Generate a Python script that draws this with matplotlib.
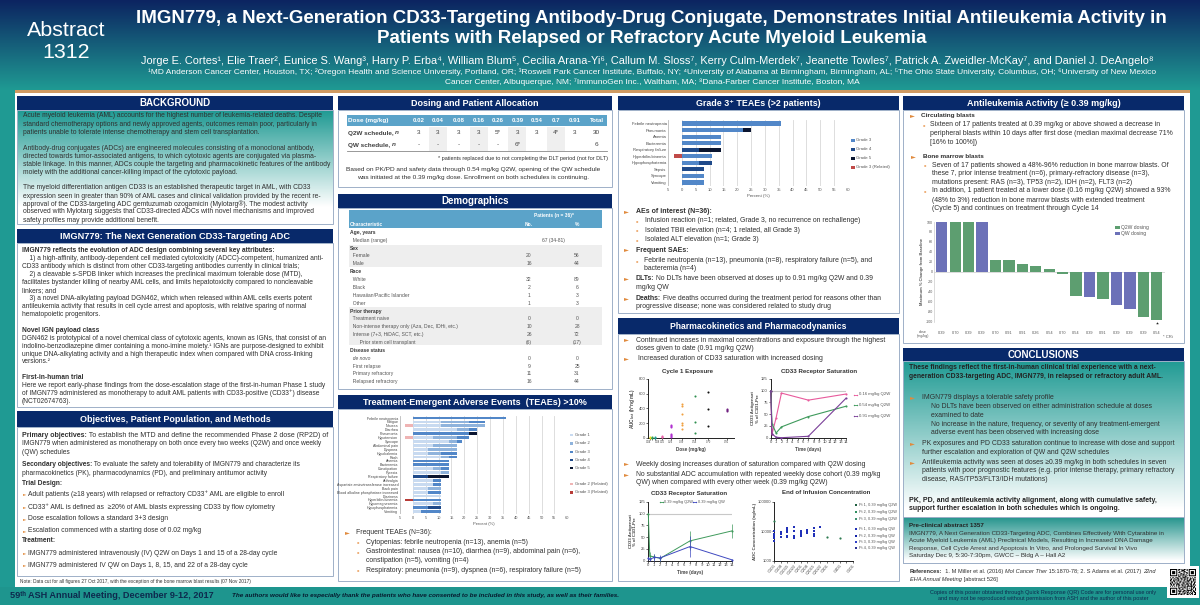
import numpy as np
import matplotlib
matplotlib.use("Agg")
import matplotlib.pyplot as plt
from matplotlib.colors import LinearSegmentedColormap
from matplotlib.patches import Rectangle

plt.rcParams['font.family'] = ['Liberation Sans', 'DejaVu Sans']
plt.rcParams['mathtext.default'] = 'regular'

# ---------- data ----------
dose_header = ["Dose (mg/kg)", "0.02", "0.04", "0.08", "0.16", "0.26", "0.39", "0.54", "0.7", "0.91", "Total"]
q2w_row = ["Q2W schedule, n", "3", "3", "3", "3", "5*", "3", "3", "4*", "3", "30"]
qw_row = ["QW schedule, n", "-", "-", "-", "-", "-", "6*", "", "", "", "6"]

demo_rows = [
    ("Age, years", "", "", 1), ("  Median (range)", "67 (34-81)", "", 0),
    ("Sex", "", "", 1), ("  Female", "20", "56", 0), ("  Male", "16", "44", 0),
    ("Race", "", "", 1), ("  White", "32", "89", 0), ("  Black", "2", "6", 0),
    ("  Hawaiian/Pacific Islander", "1", "3", 0), ("  Other", "1", "3", 0),
    ("Prior therapy", "", "", 1), ("  Treatment naive", "0", "0", 0),
    ("  Non-intense therapy only (Aza, Dec, IDHi, etc.)", "10", "28", 0),
    ("  Intense (7+3, HiDAC, SCT, etc.)", "26", "72", 0),
    ("       Prior stem cell transplant", "(6)", "(17)", 0),
    ("Disease status", "", "", 1), ("  de novo", "0", "0", 0), ("  First relapse", "9", "25", 0),
    ("  Primary refractory", "11", "31", 0), ("  Relapsed refractory", "16", "44", 0),
]

teae_names = ["Febrile neutropenia", "Fatigue", "Nausea", "Diarrhea", "Pneumonia", "Hypotension", "Syncope",
              "Abdominal pain", "Dyspnea", "Hypokalemia", "Rash", "Anemia", "Bacteremia", "Constipation",
              "Pyrexia", "Respiratory failure", "Arthralgia", "Aspartate aminotransferase increased",
              "Back pain", "Blood alkaline phosphatase increased", "Dizziness", "Hyperbilirubinemia",
              "Hypomagnesemia", "Hypophosphatemia", "Vomiting"]
teae_g1 = [0, 11, 11, 17, 0, 8, 14, 8, 6, 6, 11, 0, 0, 8, 11, 0, 8, 8, 6, 6, 11, 0, 8, 0, 3]
teae_g2 = [0, 11, 17, 5, 0, 9, 3, 9, 11, 5, 3, 0, 0, 3, 3, 0, 0, 0, 5, 0, 0, 0, 3, 0, 0]
teae_g3 = [36, 6, 0, 3, 22, 5, 2, 0, 0, 6, 3, 14, 14, 3, 0, 0, 3, 3, 0, 5, 0, 11, 0, 6, 8]
teae_g4 = [0, 0, 0, 0, 0, 0, 0, 0, 0, 0, 0, 0, 0, 0, 0, 6, 0, 0, 0, 0, 0, 0, 0, 5, 0]
teae_g5 = [0, 0, 0, 0, 3, 0, 0, 0, 0, 0, 0, 0, 0, 0, 0, 8, 0, 0, 0, 0, 0, 0, 0, 0, 0]
teae_g2rel = [0, 0, 3, 0, 0, 3, 0, 0, 0, 0, 0, 0, 0, 0, 0, 0, 0, 0, 0, 0, 0, 0, 0, 0, 0]
teae_g3rel = [0, 0, 0, 0, 0, 0, 0, 0, 0, 0, 0, 0, 0, 0, 0, 0, 0, 0, 0, 0, 0, 3, 0, 0, 0]

g3_names = ["Febrile neutropenia", "Pneumonia", "Anemia", "Bacteremia", "Respiratory failure",
            "Hyperbilirubinemia", "Hypophosphatemia", "Sepsis", "Syncope", "Vomiting"]
g3_g3 = [36, 22, 14, 14, 0, 11, 6, 0, 8, 8]
g3_g4 = [0, 0, 0, 0, 6, 0, 5, 8, 0, 0]
g3_g5 = [0, 3, 0, 0, 8, 0, 0, 0, 0, 0]
g3_rel = [0, 0, 0, 0, 0, 3, 0, 0, 0, 0]

wf_values = [100, 100, 100, 100, 23, 23, 16, 11, 5, -4, -48, -50, -55, -67, -74, -90, -96]
wf_sched = ["QW", "Q2W", "Q2W", "QW", "Q2W", "Q2W", "Q2W", "Q2W", "Q2W", "Q2W", "Q2W", "QW", "Q2W", "QW", "QW", "Q2W", "Q2W"]
wf_doses = ["0.39", "0.70", "0.39", "0.39", "0.70", "0.91", "0.91", "0.26", "0.54", "0.70", "0.54", "0.39", "0.91", "0.39", "0.39", "0.39", "0.54"]

exp_doses = [0.02, 0.04, 0.08, 0.16, 0.26, 0.39, 0.54, 0.70, 0.91]
exp_labels = ["", "0.04", "0.08", "0.16", "0.26", "0.39", "0.54", "0.70", "0.91"]
exp_colors = ["#e8e020", "#30a050", "#20a090", "#e860a8", "#b030d0", "#f0a040", "#2f8f4f", "#111111", "#702080"]
exp_values = [[0, 8], [0, 5], [0, 3], [5, 10, 25], [10, 25, 40, 50, 140, 160, 170],
              [120, 170, 200, 320, 430, 460], [60, 215, 570], [155, 395, 625], [360, 375, 385]]

sat_days = [0, 0.25, 1, 2, 7, 14]
sat_016 = [100, 8, 42, 95, 80, 93]
sat_054 = [100, 30, 10, 23, 45, 67]
sat_091 = [100, 8, 1, 0, 3, 84]

qw_days = [0, 0.25, 1, 2, 7, 14]
sat_q2w = [100, 10, 8, 5, 42, 63]
err_q2w = [0, 8, 6, 6, 20, 15]
sat_qw = [5, 3, 7, 6, 30, 2]
err_qw = [3, 3, 8, 7, 22, 2]

eoi_labels = ["C1D1", "C1D8", "C1D15", "C1D22", "C2D1", "C2D8", "C2D15", "C2D22", "C3D1", "", "C4D1", "", "C5D1"]
eoi_q2w = [[22000], [], [], [], [], [], [], [], [6500], [], [5800], [], []]
eoi_qw = [[10000, 8000, 7000, 6000, 4800], [9500, 8000, 6500], [13000, 11000, 9500, 7000, 6500],
          [14000, 10000, 7000, 6000], [10000, 8500, 7500, 6800], [11000, 10000, 9000],
          [12500, 10000, 8000, 7000], [14000], [], [], [], [], []]
eoi_legend = ["Pt 1, 0.39 mg/kg Q2W", "Pt 2, 0.39 mg/kg Q2W", "Pt 3, 0.39 mg/kg Q2W",
              "Pt 1, 0.39 mg/kg QW", "Pt 2, 0.39 mg/kg QW", "Pt 3, 0.39 mg/kg QW", "Pt 4, 0.39 mg/kg QW"]

qr_rows = [
    "#######.##.#.##.#.#######",
    "#.....#.#..###..#.#.....#",
    "#.###.#..#.#.##...#.###.#",
    "#.###.#.##...#.##.#.###.#",
    "#.###.#...##.#..#.#.###.#",
    "#.....#.#.#.##.#..#.....#",
    "#######.#.#.#.#.#.#######",
    "........##..#.##.........",
    "#.##.###..#.###.##.#.#.##",
    ".#..#..##.##..#.#..##.#..",
    "##.#.##.#..#.##.#.##..###",
    "#..##..##.#..#..###.#.#..",
    ".##.#.#..##.#.##.#..##.##",
    "#.#..#.#.#..##..#.#.#..#.",
    "##.##.###..#.#.###.##.##.",
    ".#.#..#.##.##.#..#..#.#.#",
    "#.#.#.#.#...#.#.######.#.",
    "........#.##.##.#...#.##.",
    "#######.##..#.#.#.#.#.#.#",
    "#.....#..#.##...#...##..#",
    "#.###.#.#.#..##.#####.#.#",
    "#.###.#.###.##.#.#..#.##.",
    "#.###.#..#..#.#.##.#.#.##",
    "#.....#.##.#.##.#.#.##..#",
    "#######.#.##.#..##.#.#.##",
]

# ---------- canvas ----------
fig = plt.figure(figsize=(12, 6.05), dpi=100, facecolor="#1d9a93")
ax = fig.add_axes([0, 0, 1, 1])
ax.set_axis_off()
renderer = fig.canvas.get_renderer()

NAVY = "#08296a"
TEAL = "#1f9a93"
TXT = "#303030"
ORANGE = "#e08a3c"


def grad(x0, y0, x1, y1, c0, c1, stop=1.0, z=1):
    cmap = LinearSegmentedColormap.from_list("g", [(0, c0), (stop, c1), (1, c1)])
    ax.imshow(np.linspace(0, 1, 200)[:, None], extent=(x0, x1, y1, y0), cmap=cmap, aspect="auto",
              zorder=z, interpolation="bilinear", vmin=0, vmax=1)


def box(x0, y0, x1, y1, fc="white", ec="none", lw=0, z=1):
    ax.add_patch(Rectangle((x0, y0), x1 - x0, y1 - y0, fc=fc, ec=ec, lw=lw, zorder=z))


def T(x, y, s, size=5.0, weight="normal", color=TXT, ha="left", style="normal", z=5, **kw):
    return ax.text(x, y, s, fontsize=size, fontweight=weight, color=color, ha=ha, va="center",
                   fontstyle=style, zorder=z, **kw)


def width(s, size, weight="normal", style="normal"):
    t = ax.text(0, 0, s + ".", fontsize=size, fontweight=weight, fontstyle=style)
    a = t.get_window_extent(renderer).width
    t.set_text(".")
    b = t.get_window_extent(renderer).width
    t.remove()
    return a - b


def runs(x, y, parts, size=5.0, color=TXT):
    for s, weight, style in parts:
        T(x, y, s, size, weight, color, style=style)
        x += width(s, size, weight, style)


def header(x0, y0, x1, y1, s, size=6.5):
    box(x0, y0, x1, y1, NAVY, z=2)
    T((x0 + x1) / 2, (y0 + y1) / 2 + 0.3, s, size, "bold", "white", ha="center", z=6)


def panel(x0, y0, x1, y1):
    box(x0, y0, x1, y1, "none", "#9fb0c8", 0.7, z=3)


def bullet(x, y, color=ORANGE, size=4.6):
    T(x, y, "\u25ba", size, color=color, family=["DejaVu Sans"])


def dash(x, y):
    T(x, y, "\u25aa", 2.6, color="#eeb07a", family=["DejaVu Sans"])


def inset(x0, y0, x1, y1):
    a = fig.add_axes([x0 / 1200, 1 - y1 / 605, (x1 - x0) / 1200, (y1 - y0) / 605])
    a.patch.set_alpha(0)
    return a


# background
grad(0, 0, 1200, 90, "#0c2461", "#1f9a93")
box(0, 90, 1200, 605, TEAL, z=0.5)
box(15, 93, 1190, 587, "white", z=0.8)
box(15, 89.8, 1190, 92.8, "#cf9a62", z=1.5)
box(0, 587, 1200, 605, "#1e958e", z=1.5)

# title block
T(66, 30, "Abstract", 15.4, color="white", ha="center")
T(66, 52, "1312", 15.4, color="white", ha="center")
T(651, 18.5, "IMGN779, a Next-Generation CD33-Targeting Antibody-Drug Conjugate, Demonstrates Initial Antileukemia Activity in",
  13.5, "bold", "white", ha="center")
T(652, 38.5, "Patients with Relapsed or Refractory Acute Myeloid Leukemia", 13.5, "bold", "white", ha="center")
T(647, 60.5, "Jorge E. Cortes\u00b9, Elie Traer\u00b2, Eunice S. Wang\u00b3, Harry P. Erba\u2074, William Blum\u2075, Cecilia Arana-Yi\u2076, "
  "Callum M. Sloss\u2077, Kerry Culm-Merdek\u2077, Jeanette Towles\u2077, Patrick A. Zweidler-McKay\u2077, and Daniel J. DeAngelo\u2078",
  7.95, color="white", ha="center")
T(652, 72, "\u00b9MD Anderson Cancer Center, Houston, TX; \u00b2Oregon Health and Science University, Portland, OR; \u00b3Roswell Park Cancer Institute, "
  "Buffalo, NY; \u2074University of Alabama at Birmingham, Birmingham, AL; \u2075The Ohio State University, Columbus, OH; \u2076University of New Mexico",
  6.05, color="white", ha="center")
T(652, 82, "Cancer Center, Albuquerque, NM; \u2077ImmunoGen Inc., Waltham, MA; \u2078Dana-Farber Cancer Institute, Boston, MA", 6.05, color="white", ha="center")

# ---------- column 1 ----------
header(17, 96, 333, 110, "BACKGROUND", 7.0)
grad(17, 110, 333, 224, "#1f9a93", "#ffffff", 0.85)
panel(17, 110, 333, 224)
bg_lines = [
    (62, "Acute myeloid leukemia (AML) accounts for the highest number of leukemia-related deaths. Despite"),
    (87, "standard chemotherapy options and newly approved agents, outcomes remain poor, particularly in"),
    (112, "patients unable to tolerate intense chemotherapy and stem cell transplantation."),
    (159, "Antibody-drug conjugates (ADCs) are engineered molecules consisting of a monoclonal antibody,"),
    (183, "directed towards tumor-associated antigens, to which cytotoxic agents are conjugated via plasma-"),
    (207, "stable linkage. In this manner, ADCs couple the targeting and pharmacokinetic features of the antibody"),
    (231, "moiety with the additional cancer-killing impact of the cytotoxic payload."),
    (278, "The myeloid differentiation antigen CD33 is an established therapeutic target in AML, with CD33"),
    (303, "expression seen in greater than 90% of AML cases and clinical validation provided by the recent re-"),
    (326, "approval of the CD33-targeting ADC gemtuzumab ozogamicin (Mylotarg\u00ae). The modest activity"),
    (350, "observed with Mylotarg suggests that CD33-directed ADCs with novel mechanisms and improved"),
    (375, "safety profiles may provide additional benefit."),
]
for zy, s in bg_lines:
    T(22.7, 95 + zy / 3, s, 4.85)

header(17, 229, 333, 243, "IMGN779: The Next Generation CD33-Targeting ADC", 6.7)
panel(17, 243, 333, 407)
next_lines = [
    (466, "IMGN779 reflects the evolution of ADC design combining several key attributes:", "bold"),
    (490, "    1) a high-affinity, antibody-dependent cell mediated cytotoxicity (ADCC)-competent, humanized anti-", "normal"),
    (513, "CD33 antibody which is distinct from other CD33-targeting antibodies currently in clinical trials;", "normal"),
    (540, "    2) a cleavable s-SPDB linker which increases the preclinical maximum tolerable dose (MTD),", "normal"),
    (563, "facilitates bystander killing of nearby AML cells, and limits hepatotoxicity compared to noncleavable", "normal"),
    (587, "linkers; and", "normal"),
    (611, "    3) a novel DNA-alkylating payload DGN462, which when released within AML cells exerts potent", "normal"),
    (634, "antileukemia activity that results in cell cycle arrest and apoptosis, with relative sparing of normal", "normal"),
    (658, "hematopoietic progenitors.", "normal"),
    (706, "Novel IGN payload class", "bold"),
    (729, "DGN462 is prototypical of a novel chemical class of cytotoxic agents, known as IGNs, that consist of an", "normal"),
    (753, "indolino-benzodiazepine dimer containing a mono-imine moiety.\u00b9 IGNs are purpose-designed to exhibit", "normal"),
    (777, "unique DNA-alkylating activity and a high therapeutic index when compared with DNA cross-linking", "normal"),
    (800, "versions.\u00b2", "normal"),
    (847, "First-in-human trial", "bold"),
    (871, "Here we report early-phase findings from the dose-escalation stage of the first-in-human Phase 1 study", "normal"),
    (895, "of IMGN779 administered as monotherapy to adult AML patients with CD33-positive (CD33\u207a) disease", "normal"),
    (920, "(NCT02674763).", "normal"),
]
for zy, s, w in next_lines:
    T(22, 95 + zy / 3, s, 4.75, w)

header(17, 411, 333, 427, "Objectives, Patient Population, and Methods")
panel(17, 427, 333, 576)
Y = lambda z: 390 + z / 3
N, B = "normal", "bold"
runs(22, Y(137), [("Primary objectives:", B, N), (" To establish the MTD and define the recommended Phase 2 dose (RP2D) of", N, N)], 5.0)
T(22, Y(161), "IMGN779 when administered as monotherapy on both once every two weeks (Q2W) and once weekly", 4.78)
T(22, Y(186), "(QW) schedules", 4.78)
runs(22, Y(225), [("Secondary objectives:", B, N), (" To evaluate the safety and tolerability of IMGN779 and characterize its", N, N)], 4.8)
T(22, Y(250), "pharmacokinetics (PK), pharmacodynamics (PD), and preliminary antitumor activity", 4.78)
T(22, Y(280), "Trial Design:", 4.78, B)
T(22, Y(452), "Treatment:", 4.78, B)
for zy, s in [(313, "Adult patients (\u226518 years) with relapsed or refractory CD33\u207a AML are eligible to enroll"),
              (350, "CD33\u207a AML is defined as  \u226520% of AML blasts expressing CD33 by flow cytometry"),
              (386, "Dose escalation follows a standard 3+3 design"),
              (422, "Escalation commenced with a starting dose of 0.02 mg/kg"),
              (490, "IMGN779 administered intravenously (IV) Q2W on Days 1 and 15 of a 28-day cycle"),
              (526, "IMGN779 administered IV QW on Days 1, 8, 15, and 22 of a 28-day cycle")]:
    bullet(23.3, Y(zy), size=3.2)
    T(28, Y(zy), s, 4.9)
T(20, 582, "Note: Data cut for all figures 27 Oct 2017, with the exception of the bone marrow blast results (07 Nov 2017)", 3.4)

# ---------- column 2 ----------
header(338, 96, 612, 110, "Dosing and Patient Allocation")
panel(338, 110, 612, 187)
box(347, 115, 607, 126, "#5ba3c9", z=2)
col_x = [340, 398, 461, 521, 578, 637, 695, 752, 808, 875]
col_x = [305 + c / 3 for c in col_x]
for i in [1, 3, 5, 7]:
    box(col_x[i] - 9, 127, col_x[i] + 9, 151, "#efefef", z=1.5)
ax.plot([347, 607], [151, 151], color="#888888", lw=0.6, zorder=3)
T(348, 120.5, dose_header[0], 4.6, B, "white")
T(348, 133, q2w_row[0][:-1], 4.6, B, "#404040")
T(348, 145, qw_row[0][:-1], 4.6, B, "#404040")
T(348 + width(q2w_row[0][:-1], 4.6, B), 133, "n", 4.6, B, "#404040", style="italic")
T(348 + width(qw_row[0][:-1], 4.6, B), 145, "n", 4.6, B, "#404040", style="italic")
for i, cx in enumerate(col_x):
    T(cx, 120.5, dose_header[i + 1], 4.4, B, "white", ha="center")
    T(cx, 133, q2w_row[i + 1], 4.6, color="#404040", ha="center")
    T(cx, 145, qw_row[i + 1], 4.6, color="#404040", ha="center")
T(608, 158.5, "* patients replaced due to not completing the DLT period (not for DLT)", 4.0, ha="right")
T(473.5, 169, "Based on PK/PD and safety data through 0.54 mg/kg Q2W, opening of the QW schedule", 4.66, ha="center")
T(473.5, 177.5, "was initiated at the 0.39 mg/kg dose. Enrollment on both schedules is continuing.", 4.66, ha="center")

header(338, 194, 612, 208, "Demographics", 7.0)
panel(338, 208, 612, 389)
box(349, 210, 602, 228, "#5ba3c9", z=2)
box(349, 245, 602, 267, "#eeeeee", z=1.5)
box(349, 307, 602, 345, "#eeeeee", z=1.5)
T(553.5, 215, "Patients (n = 36)*", 3.5, B, "white", ha="center")
T(350, 224, "Characteristic", 3.5, B, "white")
T(529, 224, "No.", 3.5, B, "white", ha="center")
T(577, 224, "%", 3.5, B, "white", ha="center")
for i, (name, no, pct, bold) in enumerate(demo_rows):
    yy = 232.3 + 7.87 * i
    T(350, yy, name, 3.6, B if bold else N, "#3a3a3a" if bold else "#555555",
      style="italic" if "de novo" in name else "normal")
    if i == 1:
        T(553, yy, no, 3.6, color="#555555", ha="center")
    else:
        T(529, yy, no, 3.6, color="#555555", ha="center")
        T(577, yy, pct, 3.6, color="#555555", ha="center")

header(338, 395, 612, 409, "Treatment-Emergent Adverse Events  (TEAEs) >10%")
panel(338, 409, 612, 581)

G1, G2, G3_, G4, G5, R2, R3 = "#c8daf0", "#8fb3dc", "#5287c8", "#1f4a8a", "#0a1530", "#efb4b4", "#b83c38"

a = inset(400, 415.7, 567.3, 514)
yy = np.arange(len(teae_names))
left = np.zeros(len(teae_names))
for vals, c in [(teae_g1, G1), (teae_g2, G2), (teae_g3, G3_), (teae_g4, G4), (teae_g5, G5)]:
    a.barh(yy, vals, left=left, height=0.72, color=c, zorder=3)
    left = left + np.array(vals)
a.barh(yy, -np.array(teae_g2rel), height=0.72, color=R2, zorder=3)
a.barh(yy, -np.array(teae_g3rel), height=0.72, color=R3, zorder=3)
a.set_xlim(-5, 60)
a.set_ylim(len(teae_names) - 0.4, -0.6)
a.set_yticks(yy, teae_names, fontsize=2.6, color="#444444")
a.set_xticks(np.arange(-5, 61, 5), [str(abs(v)) for v in range(-5, 61, 5)], fontsize=2.8, color="#555555")
a.tick_params(length=0, pad=1.2)
a.grid(axis="x", color="#d8d8d8", lw=0.6, zorder=0)
for s in a.spines.values():
    s.set_visible(False)
a.axvline(-5, color="#bbbbbb", lw=0.5)
a.axhline(len(teae_names) - 0.4, color="#bbbbbb", lw=0.5)
a.set_xlabel("Percent (%)", fontsize=3.0, color="#555555", labelpad=2)
for ly, lab, c in [(435, "Grade 1", G1), (443.5, "Grade 2", G2), (452, "Grade 3", G3_), (460, "Grade 4", G4),
                   (468, "Grade 5", G5), (484, "Grade 2 (Related)", R2), (492.5, "Grade 3 (Related)", R3)]:
    box(569.5, ly - 1.1, 572.5, ly + 1.1, c, z=3)
    T(575, ly, lab, 3.0, color="#555555")

bullet(344.5, 533)
T(356.5, 533, "Frequent TEAEs (N=36):", 4.95)
for zy, s in [(472, "Cytopenias: febrile neutropenia (n=13), anemia (n=5)"),
              (500, "Gastrointestinal: nausea (n=10), diarrhea (n=9), abdominal pain (n=6),"),
              (527, "constipation (n=5), vomiting (n=4)"),
              (555, "Respiratory: pneumonia (n=9), dyspnea (n=6), respiratory failure (n=5)")]:
    if zy != 527:
        dash(357, 385 + zy / 3)
    T(366, 385 + zy / 3, s, 4.95)

# ---------- column 3 ----------
header(618, 96, 899, 110, "Grade 3\u207a TEAEs (>2 patients)", 6.4)
panel(618, 110, 899, 313)

a = inset(668.3, 120, 847.7, 186)
yy = np.arange(len(g3_names))
left = np.zeros(len(g3_names))
for vals, c in [(g3_g3, G3_), (g3_g4, G4), (g3_g5, G5)]:
    a.barh(yy, vals, left=left, height=0.66, color=c, zorder=3)
    left = left + np.array(vals)
a.barh(yy, -np.array(g3_rel), height=0.66, color="#c04a48", zorder=3)
a.set_xlim(-5, 60)
a.set_ylim(len(g3_names) - 0.45, -0.55)
a.set_yticks(yy, g3_names, fontsize=3.0, color="#444444")
a.set_xticks(np.arange(-5, 61, 5), [str(abs(v)) for v in range(-5, 61, 5)], fontsize=3.0, color="#555555")
a.tick_params(length=0, pad=1.2)
a.grid(axis="x", color="#d8d8d8", lw=0.6, zorder=0)
for s in a.spines.values():
    s.set_visible(False)
a.axvline(-5, color="#bbbbbb", lw=0.5)
a.axhline(len(g3_names) - 0.45, color="#bbbbbb", lw=0.5)
a.set_xlabel("Percent (%)", fontsize=3.2, color="#555555", labelpad=2)
for ly, lab, c in [(140, "Grade 3", G3_), (149, "Grade 4", G4), (158, "Grade 5", G5), (167, "Grade 3 (Related)", "#c04a48")]:
    box(851, ly - 1.5, 854.5, ly + 1.5, c, z=3)
    T(856, ly, lab, 3.1, color="#555555")

Y = lambda z: 95 + z / 3
bullet(624, Y(350))
T(636, Y(350), "AEs of interest (N=36):", 5.0, B)
for zy, s in [(377, "Infusion reaction (n=1; related, Grade 3, no recurrence on rechallenge)"),
              (405, "Isolated TBili elevation (n=4; 1 related, all Grade 3)"),
              (434, "Isolated ALT elevation (n=1; Grade 3)")]:
    dash(636, Y(zy))
    T(645.3, Y(zy), s, 4.98)
bullet(624, Y(465))
T(636, Y(465), "Frequent SAEs:", 5.0, B)
dash(636, Y(497))
T(643.5, Y(497), "Febrile neutropenia (n=13), pneumonia (n=8), respiratory failure (n=5), and", 4.98)
T(643.5, Y(522), "bacteremia (n=4)", 4.98)
bullet(624, Y(552))
runs(636, Y(552), [("DLTs:", B, N), (" No DLTs have been observed at doses up to 0.91 mg/kg Q2W and 0.39", N, N)], 4.98)
T(636, Y(577), "mg/kg QW", 4.98)
bullet(624, Y(610))
runs(636, Y(610), [("Deaths:", B, N), (" Five deaths occurred during the treatment period for reasons other than", N, N)], 4.98)
T(636, Y(635), "progressive disease; none was considered related to study drug", 4.98)

header(618, 318, 899, 334, "Pharmacokinetics and Pharmacodynamics", 6.2)
panel(618, 334, 899, 581)
Y = lambda z: 340 + z / 3
bullet(624, Y(0))
T(636, Y(0), "Continued increases in maximal concentrations and exposure through the highest", 4.98)
T(636, Y(25), "doses given to date (0.91 mg/kg Q2W)", 4.98)
bullet(624, Y(57))
T(637.5, Y(57), "Increased duration of CD33 saturation with increased dosing", 4.98)
bullet(624, Y(372))
T(636, Y(372), "Weekly dosing increases duration of saturation compared with Q2W dosing", 4.98)
bullet(624, Y(404))
T(636, Y(404), "No substantial ADC accumulation with repeated weekly dose cohort (0.39 mg/kg", 4.98)
T(636, Y(428), "QW) when compared with every other week (0.39 mg/kg Q2W)", 4.98)


def prism(a):
    for s in ("top", "right"):
        a.spines[s].set_visible(False)
    for s in ("left", "bottom"):
        a.spines[s].set_linewidth(0.7)
        a.spines[s].set_color("#222222")
    a.tick_params(length=1.2, width=0.5, pad=0.8, labelsize=3.0, labelcolor="#444444", color="#333333")


T(688, 371, "Cycle 1 Exposure", 4.4, B, "#333333", ha="center")
T(819, 371, "CD33 Receptor Saturation", 4.4, B, "#333333", ha="center")
T(689, 493, "CD33 Receptor Saturation", 4.4, B, "#333333", ha="center")
T(826, 493, "End of Infusion Concentration", 4.4, B, "#333333", ha="center")

a = inset(648.3, 379, 734, 437.7)
prism(a)
for d, c, vs in zip(exp_doses, exp_colors, exp_values):
    a.plot([d] * len(vs), vs, ls="", marker="o", ms=1.5, color=c, mew=0, clip_on=False, zorder=4)
a.set_xlim(0, 0.997)
a.set_ylim(0, 800)
a.set_yticks([0, 200, 400, 600, 800])
a.set_xticks(exp_doses, exp_labels, fontsize=1.9)
labs = a.get_xticklabels()
labs[1].set_ha("right")
labs[2].set_ha("left")
a.set_xlabel("Dose (mg/kg)", fontsize=3.3, fontweight="bold", color="#444444", labelpad=1.5)
a.set_ylabel("AUC$_{last}$ (h*ng/mL)", fontsize=3.3, fontweight="bold", color="#444444", labelpad=1)

a = inset(770.7, 379, 846, 437.7)
prism(a)
a.axhline(100, color="#c8c8c8", lw=0.8, zorder=1)
PINK, GRN, PUR = "#e85a9c", "#3f9a5c", "#7a3f98"
for vals, c in [(sat_016, PINK), (sat_054, GRN), (sat_091, PUR)]:
    a.plot(sat_days, vals, color=c, lw=0.8, marker="o", ms=1.5, mew=0, clip_on=False, zorder=4)
a.set_xlim(0, 14)
a.set_ylim(0, 125)
a.set_xticks(range(15))
a.set_yticks([0, 25, 50, 75, 100, 125])
a.set_xlabel("Time (days)", fontsize=3.3, fontweight="bold", color="#444444", labelpad=1.5)
a.set_ylabel("CD33 Antigensat\n% of C1D1-Pre", fontsize=3.1, fontweight="bold", color="#444444", labelpad=1)
for ly, lab, c in [(394.5, "0.16 mg/kg Q2W", PINK), (405, "0.54 mg/kg Q2W", GRN), (415.5, "0.91 mg/kg Q2W", PUR)]:
    ax.plot([854, 857], [ly, ly], color=c, lw=0.6, marker="o", ms=1, mew=0, zorder=5)
    T(859, ly, lab, 3.1, color="#555555")

a = inset(648.3, 501.7, 731.7, 560.7)
prism(a)
a.axhline(100, color="#c8c8c8", lw=0.8, zorder=1)
BLU = "#3f49c0"
a.errorbar(qw_days, sat_q2w, yerr=err_q2w, color=GRN, lw=0.7, marker="o", ms=1.5, mew=0, elinewidth=0.5, capsize=0.8,
           capthick=0.4, clip_on=False, zorder=4)
a.errorbar(qw_days, sat_qw, yerr=err_qw, color=BLU, lw=0.7, marker="o", ms=1.5, mew=0, elinewidth=0.5, capsize=0.8,
           capthick=0.4, clip_on=False, zorder=5)
a.set_xlim(0, 14)
a.set_ylim(0, 125)
a.set_xticks(range(15))
a.set_yticks([0, 25, 50, 75, 100, 125])
a.set_xlabel("Time (days)", fontsize=3.3, fontweight="bold", color="#444444", labelpad=1.5)
a.set_ylabel("CD33 Antigensat\n% of C1D1-Pre", fontsize=3.1, fontweight="bold", color="#444444", labelpad=1)
ax.plot([660, 663], [502, 502], color=GRN, lw=0.6, marker="o", ms=1, mew=0, zorder=5)
T(664.5, 502, "0.39 mg/kg Q2W", 2.8, color="#555555")
ax.plot([693, 696], [502, 502], color=BLU, lw=0.6, marker="o", ms=1, mew=0, zorder=5)
T(697.5, 502, "0.39 mg/kg QW", 2.8, color="#555555")

a = inset(774.3, 501.7, 853, 561)
prism(a)
for i, vals in enumerate(eoi_qw):
    a.plot([i] * len(vals), vals, ls="", marker="s", ms=1.5, mew=0, color="#2030b8", clip_on=False, zorder=4)
for i, vals in enumerate(eoi_q2w):
    a.plot([i] * len(vals), vals, ls="", marker="o", ms=1.6, mew=0, color="#2d7a50", clip_on=False, zorder=4)
a.set_yscale("log")
a.set_ylim(1000, 100000)
a.set_yticks([1000, 10000, 100000], ["1000", "10000", "100000"])
a.minorticks_off()
a.set_xticks(range(13), eoi_labels, rotation=50, ha="right", rotation_mode="anchor", fontsize=2.8)
a.set_xlim(0, 12)
a.set_ylabel("ADC Concentration (ng/mL)", fontsize=3.2, fontweight="bold", color="#444444", labelpad=1)
eoi_y = [505, 512.3, 519.3, 529, 535.7, 542.3, 548.3]
eoi_c = ["#1f5f3f", "#2f8f5f", "#3f8f6f", "#2030b8", "#1020a8", "#3040c8", "#2a3090"]
for ly, lab, c in zip(eoi_y, eoi_legend, eoi_c):
    ax.plot([855.5], [ly], ls="", marker="s", ms=1.5, mew=0, color=c, zorder=5)
    T(859, ly, lab, 2.8, color="#555555")

# ---------- column 4 ----------
header(903, 96, 1184, 110, "Antileukemia Activity (\u2265 0.39 mg/kg)", 6.45)
panel(903, 110, 1184, 343)
Y = lambda z: 95 + z / 3
bullet(909.5, Y(62))
T(921, Y(62), "Circulating blasts", 4.6, B)
dash(922.5, Y(90))
for zy, s in [(90, "Sixteen of 17 patients treated at 0.39 mg/kg or above showed a decrease in"),
              (116, "peripheral blasts within 10 days after first dose (median maximal decrease 71%"),
              (142, "[16% to 100%])")]:
    T(930.3, Y(zy), s, 4.98)
bullet(910.5, Y(184))
T(922.7, Y(184), "Bone marrow blasts", 4.6, B)
dash(923.5, Y(211))
dash(923.5, Y(288))
for zy, s in [(211, "Seven of 17 patients showed a 48%-96% reduction in bone marrow blasts. Of"),
              (236, "these 7, prior intense treatment (n=6), primary-refractory disease (n=3),"),
              (262, "mutations present: RAS (n=3), TP53 (n=2), IDH (n=2), FLT3 (n=2)"),
              (288, "In addition, 1 patient treated at a lower dose (0.16 mg/kg Q2W) showed a 93%"),
              (315, "(48% to 3%) reduction in bone marrow blasts with extended treatment"),
              (341, "(Cycle 5) and continues on treatment through Cycle 14")]:
    T(932.3, Y(zy), s, 4.98)

WFG, WFB = "#5d9e70", "#6c71b8"
a = inset(934, 222, 1165, 321.7)
xx = np.arange(len(wf_values))
a.bar(xx, wf_values, width=0.84, color=[WFB if s == "QW" else WFG for s in wf_sched], zorder=3)
a.set_xlim(-0.573, 16.61)
a.set_ylim(-100, 100)
a.set_yticks(np.arange(-100, 101, 20), [str(v) for v in range(-100, 101, 20)], fontsize=2.6, color="#555555")
a.set_xticks(xx, wf_doses, fontsize=2.8, color="#555555")
a.tick_params(axis="x", length=0, pad=7)
a.tick_params(axis="y", length=0, pad=1)
for s in ("top", "right", "bottom"):
    a.spines[s].set_visible(False)
a.spines["left"].set_color("#cccccc")
a.spines["left"].set_linewidth(0.5)
a.axhline(0, color="#cccccc", lw=0.5, zorder=1)
a.set_ylabel("Maximum % Change from Baseline", fontsize=2.9, fontweight="bold", color="#555555", labelpad=1)
a.plot([16], [-103], ls="", marker="*", ms=2.2, mew=0, color="#222222", clip_on=False)
T(923, 331.7, "dose", 2.6, color="#555555", ha="center")
T(923, 336.3, "(mg/kg)", 2.6, color="#555555", ha="center")
T(1163, 337, "* CRi", 3.0, color="#555555")
for ly, lab, c in [(227, "Q2W dosing", WFG), (233, "QW dosing", WFB)]:
    box(1115, ly - 1.5, 1119.5, ly + 1.5, c, z=3)
    T(1121, ly, lab, 3.6, color="#555555")

header(903, 348, 1184, 361, "CONCLUSIONS", 7.0)
grad(903, 361, 1184, 517, "#219b94", "#ffffff", 0.95)
panel(903, 361, 1184, 563)
Y = lambda z: 345 + z / 3
T(909, Y(68), "These findings reflect the first-in-human clinical trial experience with a next-", 4.9, B, "#222222")
T(909, Y(95), "generation CD33-targeting ADC, IMGN779, in relapsed or refractory adult AML.", 4.9, B, "#222222")
for zy in (157, 296, 352):
    bullet(909.5, Y(zy))
for zy, s, x in [(157, "IMGN779 displays a tolerable safety profile", 921.7),
                 (185, "No DLTs have been observed on either administration schedule at doses", 930.7),
                 (211, "examined to date", 930.7),
                 (240, "No increase in the nature, frequency, or severity of any treatment-emergent", 930.7),
                 (264, "adverse event has been observed with increasing dose", 930.7),
                 (296, "PK exposures and PD CD33 saturation continue to increase with dose and support", 921.7),
                 (321, "further escalation and exploration of QW and Q2W schedules", 921.7),
                 (352, "Antileukemia activity was seen at doses \u22650.39 mg/kg in both schedules in seven", 921.7),
                 (378, "patients with poor prognostic features (e.g. prior intense therapy, primary refractory", 921.7),
                 (403, "disease, RAS/TP53/FLT3/IDH mutations)", 921.7)]:
    T(x, Y(zy), s, 4.95)
T(909, Y(465), "PK, PD, and antileukemia activity alignment, along with cumulative safety,", 5.0, B, "#222222")
T(909, Y(491), "support further escalation in both schedules which is ongoing.", 5.0, B, "#222222")
grad(903, 517, 1184, 563, "#25948d", "#ffffff", 0.95)
panel(903, 517, 1184, 563)
T(909, Y(541), "Pre-clinical abstract 1357", 4.5, B, "#222222")
for zy, s in [(565, "IMGN779, A Next Generation CD33-Targeting ADC, Combines Effectively With Cytarabine in"),
              (587, "Acute Myeloid Leukemia (AML) Preclinical Models, Resulting in Increased DNA Damage"),
              (610, "Response, Cell Cycle Arrest and Apoptosis In Vitro, and Prolonged Survival In Vivo"),
              (632, "Saturday Dec 9, 5:30-7:30pm, GWCC \u2013 Bldg A \u2013 Hall A2")]:
    T(909, Y(zy), s, 4.5)
runs(910, Y(680), [("References:", B, N), ("  1. M Miller et al. (2016) ", N, N), ("Mol Cancer Ther", N, "italic"),
                   (" 15:1870-78; 2. S Adams et al. (2017) ", N, N), ("22nd", N, "italic")], 4.1)
runs(910, Y(702), [("EHA Annual Meeting", N, "italic"), (" [abstract 526]", N, N)], 4.1)

# footer
T(10, 596, "59\u1d57\u02b0 ASH Annual Meeting, December 9-12, 2017", 6.55, B, "#0d2a4e")
T(425, 596, "The authors would like to especially thank the patients who have consented to be included in this study, as well as their families.",
  4.55, B, "#061a2e", ha="center", style="italic")
T(1043, 592.5, "Copies of this poster obtained through Quick Response (QR) Code are for personal use only", 3.95, color="#0d2a4e", ha="center")
T(1043, 598.5, "and may not be reproduced without permission from ASH and the author of this poster", 3.95, color="#0d2a4e", ha="center")

# QR
box(1167, 566, 1199, 598, "white", z=6)
qr = np.array([[0.0 if ch == "#" else 1.0 for ch in row] for row in qr_rows])
ax.imshow(qr, extent=(1170, 1196, 595, 569), cmap="gray", vmin=0, vmax=1, aspect="auto", zorder=7, interpolation="bilinear")

ax.set_xlim(0, 1200)
ax.set_ylim(605, 0)
fig.savefig("out.png", dpi=100, facecolor=fig.get_facecolor())
